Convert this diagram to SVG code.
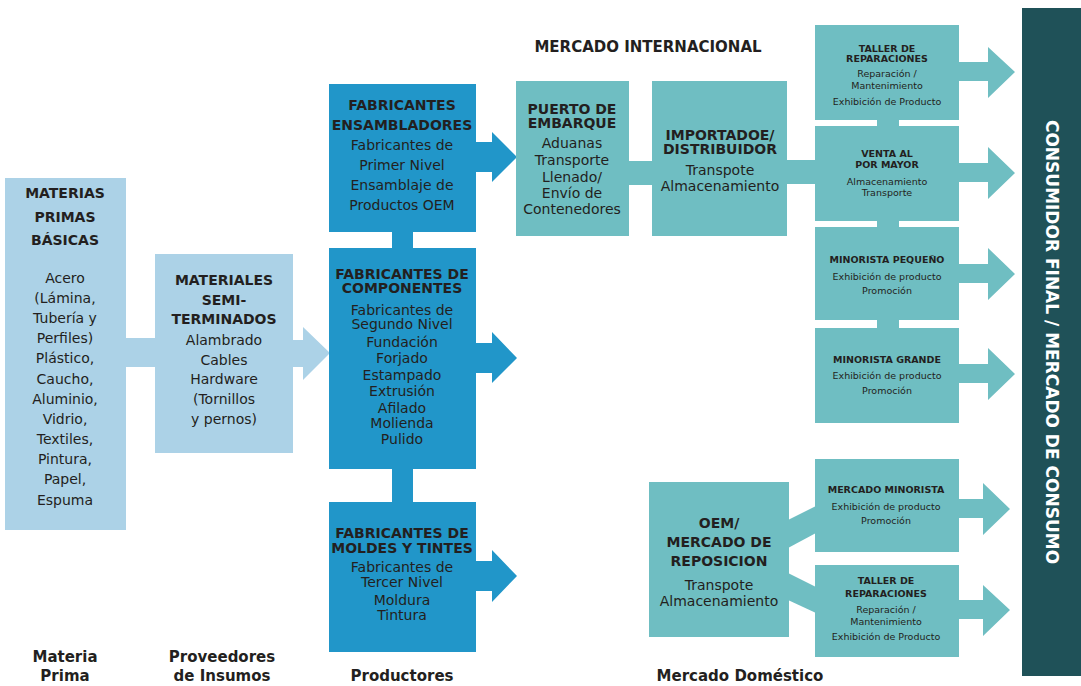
<svg xmlns="http://www.w3.org/2000/svg" width="1081" height="686" viewBox="0 0 1081 686">
<style>
.lb{fill:#acd2e7}
.mb{fill:#2196c9}
.tl{fill:#6fbec2}
.dk{fill:#1f5158}
text{font-family:"DejaVu Sans","Liberation Sans",sans-serif;fill:#231f20;text-anchor:middle}
.h{font-weight:bold;font-size:14px}
.b{font-size:14px}
.hs{font-weight:bold;font-size:9.5px}
.bs{font-size:9.5px}
.lab{font-weight:bold;font-size:15px}
</style>
<rect width="1081" height="686" fill="#fff"/>
<g id="connectors">
  <rect class="lb" x="125" y="338" width="31" height="29"/>
  <polygon class="lb" points="292,340 303,340 303,327 330,353 303,380 303,367 292,367"/>
  <rect class="mb" x="392" y="231" width="21" height="18"/>
  <rect class="mb" x="392" y="468" width="21" height="35"/>
  <polygon class="mb" points="475,142 492,142 492,132 517,157 492,182 492,172 475,172"/>
  <polygon class="mb" points="475,343 492,343 492,332 517,358 492,383 492,373 475,373"/>
  <polygon class="mb" points="475,561 492,561 492,550 517,576 492,602 492,591 475,591"/>
  <rect class="tl" x="628" y="161" width="25" height="24"/>
  <rect class="tl" x="786" y="160" width="30" height="24"/>
  <rect class="tl" x="877" y="119" width="22" height="8"/>
  <rect class="tl" x="877" y="220" width="22" height="8"/>
  <rect class="tl" x="877" y="319" width="22" height="10"/>
  <polygon class="tl" points="958,62 988,62 988,47 1015,72 988,98 988,81 958,81"/>
  <polygon class="tl" points="958,163 988,163 988,147 1015,173 988,199 988,182 958,182"/>
  <polygon class="tl" points="958,264 988,264 988,248 1015,274 988,300 988,283 958,283"/>
  <polygon class="tl" points="958,364 988,364 988,348 1015,374 988,400 988,383 958,383"/>
  <polygon class="tl" points="958,499 983,499 983,483 1010,509 983,535 983,518 958,518"/>
  <polygon class="tl" points="958,600 983,600 983,585 1010,610 983,636 983,619 958,619"/>
  <polygon class="tl" points="788,520 816,506 816,533 788,548"/>
  <polygon class="tl" points="788,573 816,587 816,613 788,600"/>
</g>
<g id="materias-primas">
  <rect class="lb" x="5" y="178" width="121" height="352"/>
  <text class="h" x="65" y="198">MATERIAS</text>
  <text class="h" x="65" y="222">PRIMAS</text>
  <text class="h" x="65" y="245">BÁSICAS</text>
  <text class="b" x="65" y="283">Acero</text>
  <text class="b" x="65" y="303">(Lámina,</text>
  <text class="b" x="65" y="323">Tubería y</text>
  <text class="b" x="65" y="343">Perfiles)</text>
  <text class="b" x="65" y="363">Plástico,</text>
  <text class="b" x="65" y="384">Caucho,</text>
  <text class="b" x="65" y="404">Aluminio,</text>
  <text class="b" x="65" y="424">Vidrio,</text>
  <text class="b" x="65" y="444">Textiles,</text>
  <text class="b" x="65" y="464">Pintura,</text>
  <text class="b" x="65" y="484">Papel,</text>
  <text class="b" x="65" y="505">Espuma</text>
</g>
<g id="materiales">
  <rect class="lb" x="155" y="254" width="138" height="199"/>
  <text class="h" x="224" y="285">MATERIALES</text>
  <text class="h" x="224" y="305">SEMI-</text>
  <text class="h" x="224" y="324">TERMINADOS</text>
  <text class="b" x="224" y="345">Alambrado</text>
  <text class="b" x="224" y="365">Cables</text>
  <text class="b" x="224" y="384">Hardware</text>
  <text class="b" x="224" y="404">(Tornillos</text>
  <text class="b" x="224" y="424">y pernos)</text>
</g>
<g id="ensambladores">
  <rect class="mb" x="329" y="84" width="147" height="148"/>
  <text class="h" x="402" y="110">FABRICANTES</text>
  <text class="h" x="402" y="130">ENSAMBLADORES</text>
  <text class="b" x="402" y="150">Fabricantes de</text>
  <text class="b" x="402" y="170">Primer Nivel</text>
  <text class="b" x="402" y="190">Ensamblaje de</text>
  <text class="b" x="402" y="210">Productos OEM</text>
</g>
<g id="componentes">
  <rect class="mb" x="329" y="248" width="147" height="221"/>
  <text class="h" x="402" y="279" font-size="13">FABRICANTES DE</text>
  <text class="h" x="402" y="293" font-size="13">COMPONENTES</text>
  <text class="b" x="402" y="315">Fabricantes de</text>
  <text class="b" x="402" y="329">Segundo Nivel</text>
  <text class="b" x="402" y="347">Fundación</text>
  <text class="b" x="402" y="363">Forjado</text>
  <text class="b" x="402" y="380">Estampado</text>
  <text class="b" x="402" y="396">Extrusión</text>
  <text class="b" x="402" y="413">Afilado</text>
  <text class="b" x="402" y="428">Molienda</text>
  <text class="b" x="402" y="444">Pulido</text>
</g>
<g id="moldes">
  <rect class="mb" x="329" y="502" width="147" height="150"/>
  <text class="h" x="402" y="538" font-size="13">FABRICANTES DE</text>
  <text class="h" x="402" y="553" font-size="13">MOLDES Y TINTES</text>
  <text class="b" x="402" y="572">Fabricantes de</text>
  <text class="b" x="402" y="587">Tercer Nivel</text>
  <text class="b" x="402" y="605">Moldura</text>
  <text class="b" x="402" y="620">Tintura</text>
</g>
<g id="puerto">
  <rect class="tl" x="516" y="81" width="113" height="155"/>
  <text class="h" x="572" y="114" font-size="13">PUERTO DE</text>
  <text class="h" x="572" y="128" font-size="13">EMBARQUE</text>
  <text class="b" x="572" y="148" font-size="13.5">Aduanas</text>
  <text class="b" x="572" y="165" font-size="13.5">Transporte</text>
  <text class="b" x="572" y="182" font-size="13.5">Llenado/</text>
  <text class="b" x="572" y="198" font-size="13.5">Envío de</text>
  <text class="b" x="572" y="214" font-size="13.5">Contenedores</text>
</g>
<g id="importador">
  <rect class="tl" x="652" y="81" width="135" height="155"/>
  <text class="h" x="720" y="140" font-size="13">IMPORTADOE/</text>
  <text class="h" x="720" y="154" font-size="13">DISTRIBUIDOR</text>
  <text class="b" x="720" y="175">Transpote</text>
  <text class="b" x="720" y="191">Almacenamiento</text>
</g>
<g id="taller1">
  <rect class="tl" x="815" y="25" width="144" height="95"/>
  <text class="hs" x="887" y="52">TALLER DE</text>
  <text class="hs" x="887" y="62">REPARACIONES</text>
  <text class="bs" x="887" y="77">Reparación /</text>
  <text class="bs" x="887" y="89">Mantenimiento</text>
  <text class="bs" x="887" y="105">Exhibición de Producto</text>
</g>
<g id="venta">
  <rect class="tl" x="815" y="126" width="144" height="95"/>
  <text class="hs" x="887" y="157">VENTA AL</text>
  <text class="hs" x="887" y="168">POR MAYOR</text>
  <text class="bs" x="887" y="185">Almacenamiento</text>
  <text class="bs" x="887" y="196">Transporte</text>
</g>
<g id="minorista-pequeno">
  <rect class="tl" x="815" y="227" width="144" height="93"/>
  <text class="hs" x="887" y="263">MINORISTA PEQUEÑO</text>
  <text class="bs" x="887" y="280">Exhibición de producto</text>
  <text class="bs" x="887" y="294">Promoción</text>
</g>
<g id="minorista-grande">
  <rect class="tl" x="815" y="328" width="144" height="95"/>
  <text class="hs" x="887" y="363">MINORISTA GRANDE</text>
  <text class="bs" x="887" y="379">Exhibición de producto</text>
  <text class="bs" x="887" y="394">Promoción</text>
</g>
<g id="oem">
  <rect class="tl" x="649" y="482" width="140" height="155"/>
  <text class="h" x="719" y="528">OEM/</text>
  <text class="h" x="719" y="547">MERCADO DE</text>
  <text class="h" x="719" y="566">REPOSICION</text>
  <text class="b" x="719" y="590">Transpote</text>
  <text class="b" x="719" y="606">Almacenamiento</text>
</g>
<g id="mercado-minorista">
  <rect class="tl" x="815" y="459" width="144" height="93"/>
  <text class="hs" x="886" y="493">MERCADO MINORISTA</text>
  <text class="bs" x="886" y="510">Exhibición de producto</text>
  <text class="bs" x="886" y="524">Promoción</text>
</g>
<g id="taller2">
  <rect class="tl" x="815" y="565" width="144" height="92"/>
  <text class="hs" x="886" y="584">TALLER DE</text>
  <text class="hs" x="886" y="597">REPARACIONES</text>
  <text class="bs" x="886" y="613">Reparación /</text>
  <text class="bs" x="886" y="625">Mantenimiento</text>
  <text class="bs" x="886" y="640">Exhibición de Producto</text>
</g>
<g id="consumidor">
  <rect class="dk" x="1022" y="8" width="59" height="668"/>
  <text transform="translate(1046,342) rotate(90)" font-weight="bold" font-size="17" style="fill:#fff">CONSUMIDOR FINAL / MERCADO DE CONSUMO</text>
</g>
<g id="labels">
  <text class="lab" x="648" y="52">MERCADO INTERNACIONAL</text>
  <text class="lab" x="65" y="662">Materia</text>
  <text class="lab" x="65" y="681">Prima</text>
  <text class="lab" x="222" y="662">Proveedores</text>
  <text class="lab" x="222" y="681">de Insumos</text>
  <text class="lab" x="402" y="681">Productores</text>
  <text class="lab" x="740" y="681">Mercado Doméstico</text>
</g>
</svg>
